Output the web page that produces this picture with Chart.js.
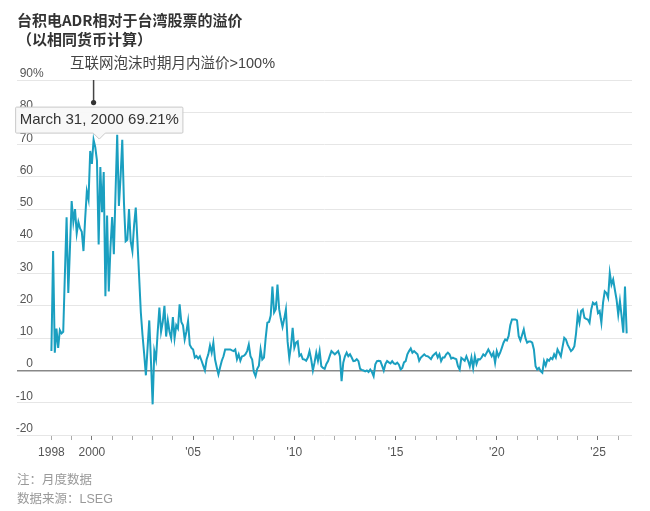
<!DOCTYPE html>
<html>
<head>
<meta charset="utf-8">
<script src="https://cdn.jsdelivr.net/npm/chart.js@4.4.1/dist/chart.umd.min.js"></script>
<style>
  html, body { margin: 0; padding: 0; background: #fff; }
  #wrap { position: relative; width: 650px; height: 511px; }
  #wrap canvas { position: absolute; left: 0; top: 0; }
  .txt { position: absolute; white-space: nowrap; font-family: "Liberation Sans", Arial, "Noto Sans CJK SC", sans-serif; }
  .title { left: 17px; font-size: 15px; line-height: 18px; font-weight: bold; color: #333; font-family: "Noto Sans CJK SC", "Liberation Sans", sans-serif; }
  .anno { left: 70px; top: 54px; font-size: 14.5px; line-height: 18px; color: #444; }
  .note { left: 17px; font-size: 12.5px; line-height: 16px; color: #999; font-family: "Liberation Sans", "Noto Sans CJK SC", sans-serif; }
</style>
</head>
<body>
<div id="wrap">
  <canvas id="premiumChart" width="650" height="511"></canvas>
  <div class="txt title" style="top:11px">台积电ADR相对于台湾股票的溢价</div>
  <div class="txt title" style="top:30px">（以相同货币计算）</div>
  <div class="txt anno">互联网泡沫时期月内溢价&gt;100%</div>
  <div class="txt note" style="top:472px">注：月度数据</div>
  <div class="txt note" style="top:491px">数据来源：LSEG</div>
</div>
<script>
// monthly premium (%), starting Jan 1998, one row per year
const startYear = 1998;
const premium = [
  6, 37, 5.5, 13, 7, 12.5, 11.5, 12, 30, 47.5, 24, 38,
  52.5, 46, 50, 42.5, 46, 44, 43, 37, 47, 55.5, 53, 68,
  64, 71.5, 69.21, 65, 39, 63, 49, 61.5, 23, 48, 24.5, 38,
  47.5, 36, 55, 73, 51, 60, 71.5, 52, 40, 40.5, 50, 40,
  37, 45, 50.5, 40, 29, 18, 11, 5, -1.5, 7, 15.5, 3,
  -10.5, 6, 3.5, 12, 19.5, 12, 15, 20, 10.5, 15.5, 12, 10,
  16.5, 10, 14, 13, 20.5, 15, 14, 9.6, 12, 15.3, 8, 7,
  6.5, 4, 4.5, 3.7, 4.4, 3, 1.5, 0, 3.4, 5, 7.7, 5.5,
  8.6, 3.4, 1, -1.2, 1, 3, 4.4, 6.5, 6.5, 6.5, 6.5, 6.2,
  6, 6.5, 3.5, 5, 3, 4.4, 4.5, 5, 6, 8, 4.4, 3.4,
  -0.5, -1.8, 0.5, 1.5, 6.5, 3.4, 4, 10, 14.8, 15, 17, 26,
  18, 19, 26.6, 19, 16, 13.5, 16, 18.9, 9, 3.8, 7.5, 13.2,
  7, 8.6, 9, 4.5, 5, 3.5, 3.4, 3, 4, 6, 3.4, 0,
  2.5, 5.5, 3, 6, 1.3, 0.8, 0.5, 2, 2.9, 4.5, 6, 5.5,
  5, 5.5, 6, 4.4, -3.3, 2.4, 4.4, 5.5, 4.4, 5, 4, 2.9,
  3, 3.5, 2.9, 0.5, 0.2, 0, -0.3, 0, -0.5, 0.3, -0.5, -1.8,
  1.9, 2.9, 3, 2.9, 1.5, 0, 2, 2.9, 2.5, 2.2, 2.9, 2.2,
  2, 2.4, 1.8, 0.3, 0.8, 2.5, 2.9, 5, 6, 6.8, 5.5, 6,
  5.5, 5, 3, 4, 4.5, 5, 4.5, 4.4, 4, 3.5, 4.5, 5,
  5.5, 4, 5, 2.9, 4, 4, 5, 5.5, 5, 3.7, 4, 3.7,
  3.5, 1.3, 0.3, 3.9, 3.5, 3, 4.4, 3, 1.3, 4, 0.8, 4.4,
  2, 3.5, 3.4, 4, 5, 4.5, 5.5, 6.5, 5.5, 4.4, 5.5, 2.4,
  6, 4.4, 5.5, 7, 8.6, 9.6, 9.3, 10.6, 14, 15.8, 15.8, 15.8,
  15.5, 10.6, 9.3, 11, 12.7, 10, 8.6, 9, 9, 8.6, 6.5, 1.3,
  0.3, 0.8, -0.2, -0.7, 2.9, 1.5, 3.4, 3, 3.9, 3.5, 5, 4,
  6.5, 5.5, 4.4, 7.3, 10.1, 9.6, 8, 7, 6, 6.5, 7.5, 11.5,
  17.3, 14.8, 18.4, 18.9, 16.3, 16, 15.8, 14.8, 18.9, 21, 20.5, 21,
  17.8, 18.4, 14.8, 21, 24.5, 24, 22.5, 30.2, 26.6, 28.2, 25, 22,
  17.3, 21.5, 16.8, 11.7, 26, 11.5
];

// x axis labels
const tickYears = [1998, 2000, 2005, 2010, 2015, 2020, 2025];
const tickText = ['1998', '2000', "'05", "'10", "'15", "'20", "'25"];

// y axis
const yMin = -20, yMax = 90, yStep = 10;

// highlighted month (tooltip) and annotation marker
const tooltipIndex = 26;
const annoIndex = 25;
const annoValue = 83;

const monthNames = ['January', 'February', 'March', 'April', 'May', 'June', 'July',
  'August', 'September', 'October', 'November', 'December'];

const points = premium.map((v, i) => ({ x: startYear + i / 12, y: v }));

function monthEndLabel(i) {
  const d = new Date(startYear, i + 1, 0);
  return `${monthNames[d.getMonth()]} ${d.getDate()}, ${d.getFullYear()}`;
}

const sansFont = '"Liberation Sans", Arial, sans-serif';

// tooltip box sits a little right of the point, as in the original
Chart.Tooltip.positioners.shifted = function(items) {
  const p = Chart.Tooltip.positioners.average.call(this, items);
  return p ? { x: p.x + 4, y: p.y } : p;
};

const overlayPlugin = {
  id: 'overlay',
  afterDatasetsDraw(chart) {
    const ctx = chart.ctx;
    const ys = chart.scales.y;
    const xs = chart.scales.x;
    ctx.save();
    ctx.font = '12px ' + sansFont;
    ctx.fillStyle = '#555';
    ctx.textBaseline = 'alphabetic';
    ys.ticks.forEach(t => {
      const y = ys.getPixelForValue(t.value) - 3;
      ctx.textAlign = 'right';
      ctx.fillText(String(t.value), 33, y);
      if (t.value === yMax) {
        ctx.textAlign = 'left';
        ctx.fillText('%', 33, y);
      }
    });

    // leader line of the annotation
    const ax = xs.getPixelForValue(points[annoIndex].x);
    const ay = ys.getPixelForValue(annoValue);
    ctx.strokeStyle = '#444';
    ctx.lineWidth = 1.5;
    ctx.beginPath();
    ctx.moveTo(ax, chart.chartArea.top);
    ctx.lineTo(ax, ay);
    ctx.stroke();
    ctx.fillStyle = '#333';
    ctx.beginPath();
    ctx.arc(ax, ay, 2.6, 0, Math.PI * 2);
    ctx.fill();
    ctx.restore();
  }
};

const chart = new Chart(document.getElementById('premiumChart'), {
  type: 'line',
  data: {
    datasets: [{
      data: points,
      borderColor: '#1a9fc0',
      borderWidth: 2,
      pointRadius: 0,
      pointHoverRadius: 0,
      fill: false,
      tension: 0
    }]
  },
  options: {
    responsive: false,
    animation: false,
    events: [],
    layout: { padding: { left: 17, right: 18, top: 80, bottom: 0 } },
    plugins: {
      legend: { display: false },
      title: { display: false },
      tooltip: {
        enabled: true,
        position: 'shifted',
        yAlign: 'bottom',
        xAlign: 'center',
        backgroundColor: 'rgba(248,248,248,0.96)',
        borderColor: '#c8c8c8',
        borderWidth: 1,
        bodyColor: '#333',
        bodyFont: { family: sansFont, size: 15 },
        padding: { x: 4, y: 4 },
        cornerRadius: 1,
        caretSize: 6,
        caretPadding: 8,
        displayColors: false,
        callbacks: {
          title: () => [],
          label: (c) => `${monthEndLabel(c.dataIndex)} ${c.parsed.y.toFixed(2)}%`
        }
      }
    },
    scales: {
      x: {
        type: 'linear',
        min: 1996.3,
        max: 2026.68,
        afterBuildTicks: (scale) => {
          scale.ticks = scale.ticks.filter(t => t.value >= 1998);
        },
        afterFit: (scale) => { scale.height = 76; },
        border: { display: false },
        grid: {
          drawOnChartArea: false,
          drawTicks: true,
          tickLength: 5,
          tickWidth: 1,
          tickColor: (c) => (c.tick && c.tick.value % 5 === 0) ? '#777' : '#aaa'
        },
        ticks: {
          stepSize: 1,
          includeBounds: false,
          autoSkip: false,
          maxRotation: 0,
          padding: 5,
          color: '#555',
          font: { family: sansFont, size: 12 },
          callback: (v) => {
            const k = tickYears.indexOf(v);
            return k >= 0 ? tickText[k] : '';
          }
        }
      },
      y: {
        min: yMin,
        max: yMax,
        afterFit: (scale) => { scale.width = 0; },
        border: { display: false },
        grid: {
          drawTicks: false,
          color: (c) => (c.tick && c.tick.value === 0) ? '#888' : '#e6e6e6',
          lineWidth: (c) => (c.tick && c.tick.value === 0) ? 1.5 : 1
        },
        ticks: { display: false, stepSize: yStep }
      }
    }
  },
  plugins: [overlayPlugin]
});

chart.tooltip.setActiveElements([{ datasetIndex: 0, index: tooltipIndex }], { x: 0, y: 0 });
chart.update();
</script>
</body>
</html>
